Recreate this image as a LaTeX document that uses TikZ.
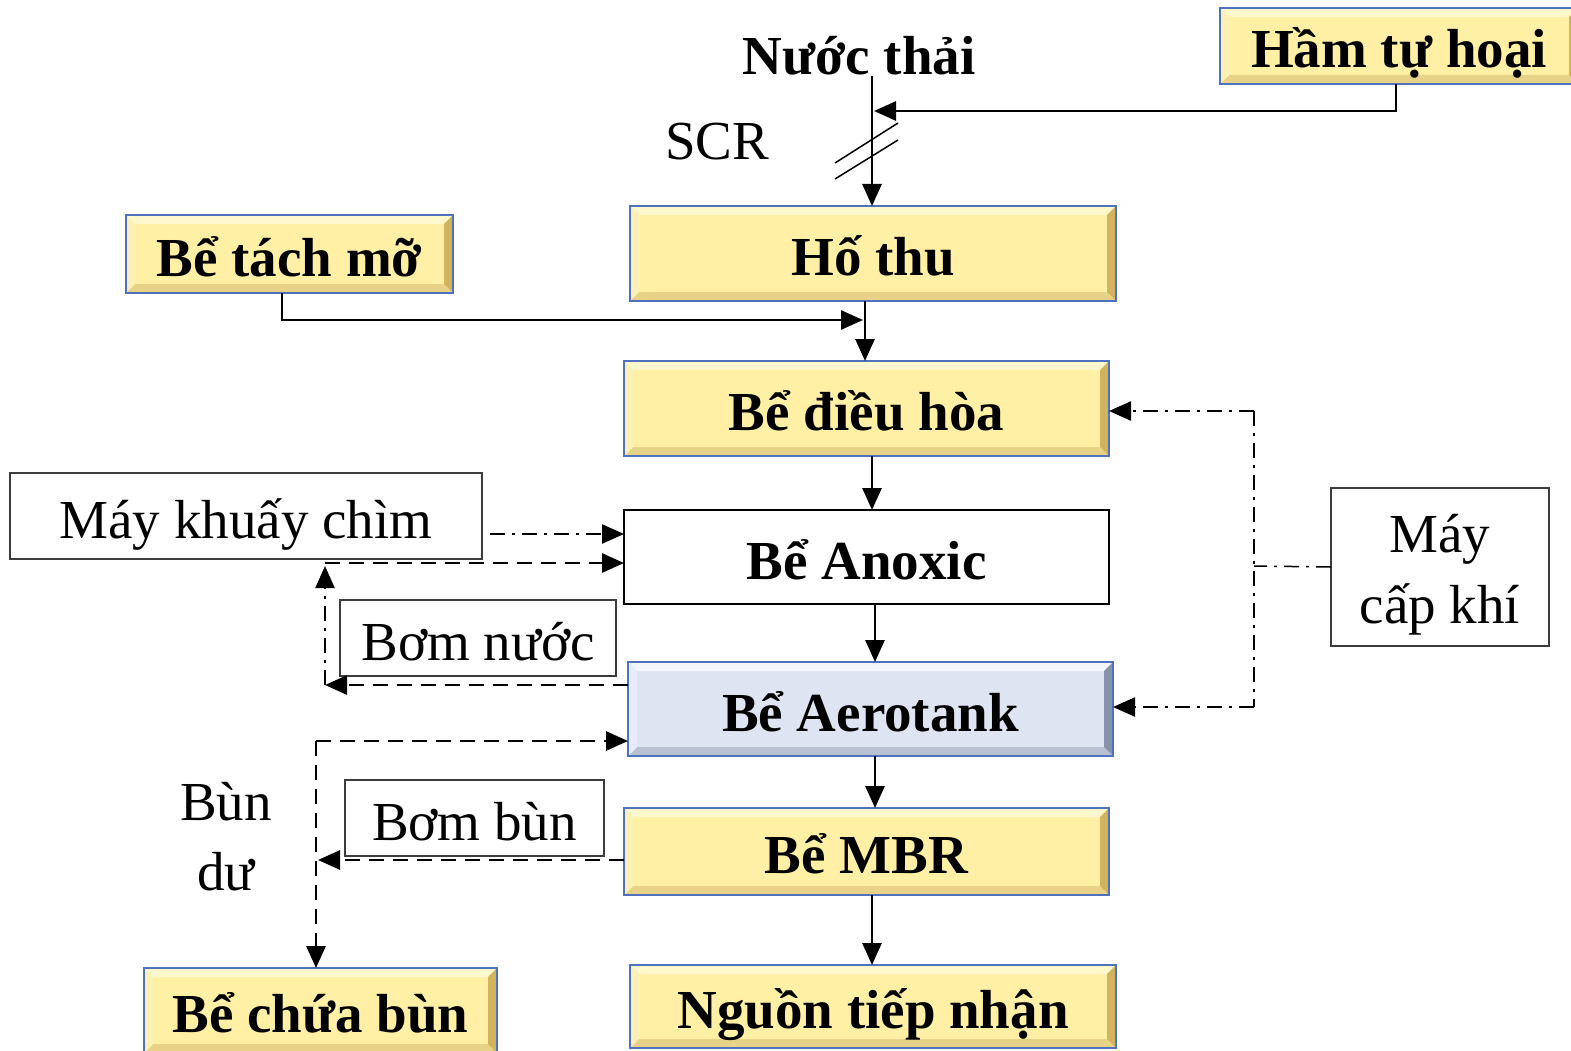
\documentclass[tikz,border=0pt]{standalone}
\usepackage{fontspec}
\setmainfont{Liberation Serif}
\usetikzlibrary{arrows.meta}
\definecolor{yface}{RGB}{255,240,165}
\definecolor{ytop}{RGB}{255,248,205}
\definecolor{yleft}{RGB}{252,240,180}
\definecolor{ybot}{RGB}{232,210,135}
\definecolor{yright}{RGB}{210,180,95}
\definecolor{bface}{RGB}{222,228,241}
\definecolor{btop}{RGB}{242,245,251}
\definecolor{bleft}{RGB}{232,236,246}
\definecolor{bbot}{RGB}{185,192,210}
\definecolor{bright}{RGB}{135,145,170}
\definecolor{bordblue}{RGB}{79,114,190}
\definecolor{tgray}{RGB}{60,60,60}
\newcommand\mybevel[4]{%
 \def\mybw{9pt}%
 \fill[#1] (path picture bounding box.north west) -- (path picture bounding box.north east) -- ([xshift=-\mybw,yshift=-\mybw]path picture bounding box.north east) -- ([xshift=\mybw,yshift=-\mybw]path picture bounding box.north west) -- cycle;
 \fill[#3] (path picture bounding box.south west) -- (path picture bounding box.south east) -- ([xshift=-\mybw,yshift=\mybw]path picture bounding box.south east) -- ([xshift=\mybw,yshift=\mybw]path picture bounding box.south west) -- cycle;
 \fill[#2] (path picture bounding box.north west) -- (path picture bounding box.south west) -- ([xshift=\mybw,yshift=\mybw]path picture bounding box.south west) -- ([xshift=\mybw,yshift=-\mybw]path picture bounding box.north west) -- cycle;
 \fill[#4] (path picture bounding box.north east) -- (path picture bounding box.south east) -- ([xshift=-\mybw,yshift=\mybw]path picture bounding box.south east) -- ([xshift=-\mybw,yshift=-\mybw]path picture bounding box.north east) -- cycle;
}
\tikzset{
 txt/.style={inner sep=0pt, outer sep=0pt, font=\fontsize{55}{70}\selectfont},
 onel/.style={txt, text height=44pt, text depth=0pt},
 ybox/.style={onel, font=\fontsize{55}{70}\selectfont\bfseries, draw=bordblue, line width=2.5pt, fill=yface, path picture={\mybevel{ytop}{yleft}{ybot}{yright}}},
 bbox/.style={onel, font=\fontsize{55}{70}\selectfont\bfseries, draw=bordblue, line width=2.5pt, fill=bface, path picture={\mybevel{btop}{bleft}{bbot}{bright}}},
 wbox/.style={onel, font=\fontsize{55}{70}\selectfont\bfseries, draw=black, line width=2.5pt, fill=white},
 tbox/.style={txt, draw=tgray, line width=1.2pt, fill=white},
 arr/.style={-{Triangle[length=22pt,width=19pt]}},
 ln/.style={line width=2.8pt},
 dsh/.style={line width=2.8pt, dash pattern=on 15pt off 9pt},
 ddot/.style={line width=2.4pt, dash pattern=on 15pt off 7pt on 3pt off 7pt},
}
\begin{document}
\begin{tikzpicture}[x=1pt,y=-1pt]
\path[use as bounding box] (0,0) rectangle (1571,1051);
\clip (0,0) rectangle (1571,1051);

% boxes
\node[ybox, minimum width=358, minimum height=76] (ham) at (1399,46) {Hầm tự hoại};
\node[ybox, minimum width=486, minimum height=95] (ho) at (873,253.5) {Hố thu};
\node[ybox, minimum width=327, minimum height=78] (tach) at (289.5,254) {Bể tách mỡ};
\node[ybox, minimum width=485, minimum height=95] (dieu) at (866.5,408.5) {Bể điều hòa};
\node[wbox, minimum width=485, minimum height=94] (anox) at (866.5,557) {Bể Anoxic};
\node[bbox, minimum width=485, minimum height=94] (aero) at (870.5,709) {Bể Aerotank};
\node[ybox, minimum width=485, minimum height=87] (mbr) at (866.5,851.5) {Bể MBR};
\node[ybox, minimum width=486, minimum height=83] (nguon) at (873,1006.5) {Nguồn tiếp nhận};
\node[ybox, minimum width=353, minimum height=85] (chua) at (320.5,1010.5) {Bể chứa bùn};

\node[tbox, onel, minimum width=472, minimum height=86] (khuay) at (246,516) {Máy khuấy chìm};
\node[tbox, onel, minimum width=276, minimum height=76] (bnuoc) at (478,638) {Bơm nước};
\node[tbox, onel, minimum width=259, minimum height=76] (bbun) at (474.5,818) {Bơm bùn};
\node[tbox, align=center, font=\fontsize{55}{71}\selectfont, minimum width=218, minimum height=158] (capkhi) at (1440,567) {\rule{0pt}{54pt}Máy\\cấp khí};

% free texts
\node[onel, font=\fontsize{55}{70}\selectfont\bfseries] (nuoc) at (859,53) {Nước thải};
\node[onel] (scr) at (717,138) {SCR};
\node[txt, align=center] (bundu) at (226,837) {Bùn\\dư};

% coordinates
\coordinate (top) at (872,76);
\coordinate (j1) at (874,111);
\coordinate (j2) at (863,320);
\coordinate (c1) at (325,685);
\coordinate (c2) at (325,563);
\coordinate (c3) at (318,860);
\coordinate (c4) at (316,741);
\coordinate (c5) at (1254,566);
\coordinate (c6) at (1254,411);
\coordinate (c7) at (1254,707);

% main flow
\draw[ln,arr] (top) -- (top |- ho.north);
\draw[ln,arr] ([xshift=-3pt]ham.south) |- (j1);
\draw[line width=1.5pt] (835,163) -- (898,123);
\draw[line width=1.5pt] (835,179) -- (898,140);
\draw[ln,arr] ([xshift=-7.5pt]tach.south) |- (j2);
\draw[ln,arr] ([xshift=-8pt]ho.south) -- ([xshift=-1.5pt]dieu.north);
\draw[ln,arr] ([xshift=5.5pt]dieu.south) -- ([xshift=5.5pt]anox.north);
\draw[ln,arr] ([xshift=8.5pt]anox.south) -- ([xshift=4.5pt]aero.north);
\draw[ln,arr] ([xshift=4.5pt]aero.south) -- ([xshift=8.5pt]mbr.north);
\draw[ln,arr] ([xshift=5.5pt]mbr.south) -- ([xshift=-1pt]nguon.north);

% mixer
\draw[ddot,arr] ([xshift=8pt,yshift=-18pt]khuay.east) -- ([yshift=23pt]anox.west);
% internal recycle
\draw[dsh,arr] ([yshift=24pt]aero.west) -- (c1);
\draw[ddot,arr] (c1) -- ([yshift=-3pt]c2);
\draw[dsh,arr] (c2) -- ([yshift=-6pt]anox.west);
% sludge
\draw[dsh,arr] ([yshift=-8.5pt]mbr.west) -- (c3);
\draw[dsh,arr] (c4) -- ([xshift=-4.5pt]chua.north);
\draw[dsh,arr] (c4) -- ([yshift=-32pt]aero.west);
% air
\draw[ddot, line width=1.5pt] (capkhi.west) -- (c5);
\draw[ddot, line width=1.8pt] (c6) -- (c7);
\draw[ddot,arr] (c6) -- ([yshift=-2.5pt]dieu.east);
\draw[ddot,arr] (c7) -- ([yshift=2pt]aero.east);
\end{tikzpicture}
\end{document}
